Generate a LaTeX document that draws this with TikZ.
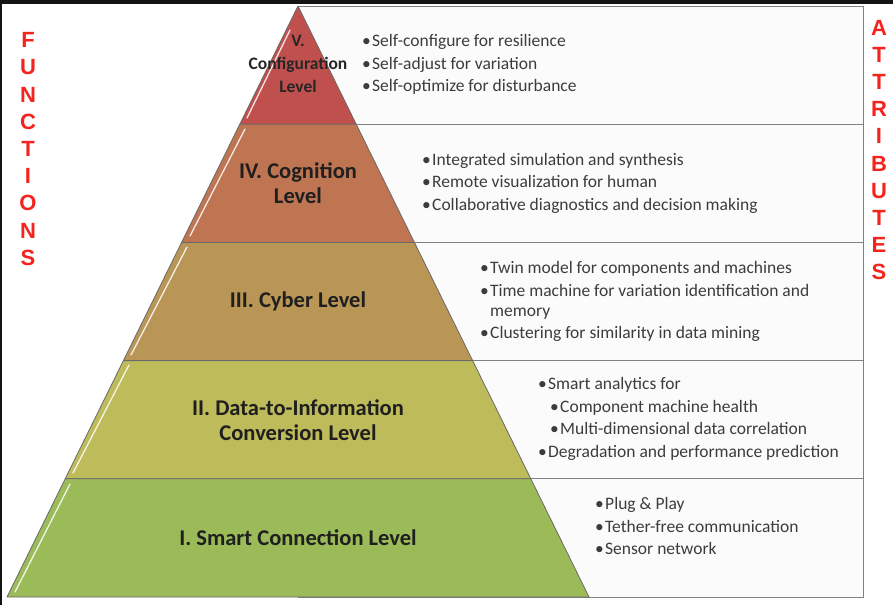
\documentclass[tikz,border=0pt]{standalone}
\usepackage{fontspec}
\setmainfont{Carlito}
\newfontfamily\arialbold[BoldFont={* Bold}]{Liberation Sans}
\definecolor{lvV}{RGB}{192,80,77}
\definecolor{lvIV}{RGB}{191,117,82}
\definecolor{lvIII}{RGB}{186,150,86}
\definecolor{lvII}{RGB}{190,187,90}
\definecolor{lvI}{RGB}{155,187,89}
\definecolor{edge}{RGB}{105,105,105}
\definecolor{boxline}{RGB}{128,128,128}
\definecolor{boxfill}{RGB}{251,251,251}
\definecolor{redtxt}{RGB}{245,35,30}
\definecolor{bultxt}{RGB}{60,60,60}
\newcommand\bul{\makebox[10pt][l]{\textbullet}}
\tikzset{
  level/.style={draw=edge, line width=0.8pt, line join=round},
  attrbox/.style={draw=boxline, fill=boxfill, line width=1pt},
  hilite/.style={white, line width=1.3pt, opacity=0.85, line cap=round},
  lvlabel/.style={font=\fontsize{22.5}{25}\selectfont\bfseries, text=black!88, align=center, inner sep=0pt},
  vlabel/.style={font=\fontsize{17.5}{23}\selectfont\bfseries, text=black!85, align=center, inner sep=0pt},
  bullist/.style={font=\fontsize{17.5}{22.5}\selectfont, text=bultxt, align=left, inner sep=0pt, anchor=west},
  sidetxt/.style={font=\arialbold\bfseries\fontsize{22}{27.2}\selectfont, text=redtxt, align=center, inner sep=0pt}
}
\begin{document}
\begin{tikzpicture}[x=1pt,y=-1pt]
\useasboundingbox (0,0) rectangle (893,605);
\fill[white] (0,0) rectangle (893,605);
\fill[black!92] (0,0) rectangle (893,4);
\fill[black!92] (0,0) rectangle (2,605);
% attribute boxes
\draw[attrbox] (298,6) rectangle (863,124.2);
\draw[attrbox] (298,124.2) rectangle (863,242.4);
\draw[attrbox] (298,242.4) rectangle (863,360.6);
\draw[attrbox] (298,360.6) rectangle (863,478.8);
\draw[attrbox] (298,478.8) rectangle (863,597);
% pyramid levels
\filldraw[level, fill=lvV] (298,6) -- (356.2,124.2) -- (239.8,124.2) -- cycle;
\filldraw[level, fill=lvIV] (239.8,124.2) -- (356.2,124.2) -- (414.4,242.4) -- (181.6,242.4) -- cycle;
\filldraw[level, fill=lvIII] (181.6,242.4) -- (414.4,242.4) -- (472.6,360.6) -- (123.4,360.6) -- cycle;
\filldraw[level, fill=lvII] (123.4,360.6) -- (472.6,360.6) -- (530.8,478.8) -- (65.2,478.8) -- cycle;
\filldraw[level, fill=lvI] (65.2,478.8) -- (530.8,478.8) -- (589,597) -- (7,597) -- cycle;
% highlights
\draw[hilite] (290,30) -- (247,118);
\draw[hilite] (245,129) -- (190,236);
\draw[hilite] (187,247) -- (131,355);
\draw[hilite] (129,365) -- (73,473);
\draw[hilite] (70,484) -- (15,592);
% level labels
\node[vlabel] (l5) at (298,63.5) {V.\\Configuration\\Level};
\node[lvlabel] (l4) at (298,183) {IV. Cognition\\Level};
\node[lvlabel] (l3) at (298,301) {III. Cyber Level};
\node[lvlabel] (l2) at (298,420) {II. Data-to-Information\\Conversion Level};
\node[lvlabel] (l1) at (298,538) {I. Smart Connection Level};
% attribute lists
\node[bullist] (a5) at (362,64.5) {\bul Self-configure for resilience\\\bul Self-adjust for variation\\\bul Self-optimize for disturbance};
\node[bullist] (a4) at (422,183) {\bul Integrated simulation and synthesis\\\bul Remote visualization for human\\\bul Collaborative diagnostics and decision making};
\node[bullist] (a3) at (480,301.5) {\bul Twin model for components and machines\\\bul Time machine for variation identification and\\[-2.5pt]\hspace*{10pt}memory\\\bul Clustering for similarity in data mining};
\node[bullist] (a2) at (538,419) {\bul Smart analytics for\\\hspace*{12pt}\bul Component machine health\\\hspace*{12pt}\bul Multi-dimensional data correlation\\\bul Degradation and performance prediction};
\node[bullist] (a1) at (595,526) {\bul Plug \& Play\\\bul Tether-free communication\\\bul Sensor network};
% side labels
\node[sidetxt] (fn) at (28,149) {F\\U\\N\\C\\T\\I\\O\\N\\S};
\node[sidetxt] (at) at (879,150) {A\\T\\T\\R\\I\\B\\U\\T\\E\\S};
\end{tikzpicture}
\end{document}
